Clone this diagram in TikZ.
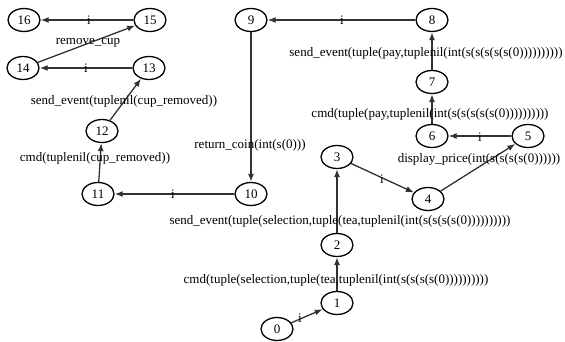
\documentclass[tikz,border=0pt]{standalone}
\usepackage{fontspec}
\setmainfont{Liberation Serif}
\usepackage{tikz}
\usetikzlibrary{arrows.meta,shapes.geometric}
\definecolor{edgegray}{RGB}{50, 50, 50}
\tikzset{
  state/.style={draw=black, ellipse, line width=1.3pt, minimum width=32pt, minimum height=23pt, inner sep=0pt},
  trans/.style={-{Latex[length=8pt,width=6pt]}, line width=1.3pt, color=edgegray},
  lbl/.style={inner sep=0pt}
}

\begin{document}
\begin{tikzpicture}[x=1pt, y=-1pt, font=\fontsize{13}{15}\selectfont]
        \useasboundingbox (0,0) rectangle (565,342);
        \node[state] (s0) at (277,329) {0};
        \node[state] (s1) at (337,303) {1};
        \node[state] (s2) at (337,245) {2};
        \node[state] (s3) at (337,157) {3};
        \node[state] (s4) at (428,199) {4};
        \node[state] (s5) at (528,136) {5};
        \node[state] (s6) at (432,136) {6};
        \node[state] (s7) at (432,82) {7};
        \node[state] (s8) at (432,20) {8};
        \node[state] (s9) at (251,20) {9};
        \node[state] (s10) at (251,194) {10};
        \node[state] (s11) at (98,194) {11};
        \node[state] (s12) at (102,131) {12};
        \node[state] (s13) at (149,68) {13};
        \node[state] (s14) at (23,68) {14};
        \node[state] (s15) at (150,20) {15};
        \node[state] (s16) at (24,20) {16};
        \draw[trans] (s0) -- (s1);
        \draw[trans] (s1) -- (s2);
        \draw[trans] (s2) -- (s3);
        \draw[trans] (s3) -- (s4);
        \draw[trans] (s4) -- (s5);
        \draw[trans] (s5) -- (s6);
        \draw[trans] (s6) -- (s7);
        \draw[trans] (s7) -- (s8);
        \draw[trans] (s8) -- (s9);
        \draw[trans] (s9) -- (s10);
        \draw[trans] (s10) -- (s11);
        \draw[trans] (s11) -- (s12);
        \draw[trans] (s12) -- (s13);
        \draw[trans] (s13) -- (s14);
        \draw[trans] (s14) -- (s15);
        \draw[trans] (s15) -- (s16);
        \node[lbl] (l01) at (300,318) {i};
        \node[lbl] (l12) at (336,280) {cmd(tuple(selection,tuple(tea,tuplenil(int(s(s(s(s(0))))))))))};
        \node[lbl] (l23) at (340,221) {send\_event(tuple(selection,tuple(tea,tuplenil(int(s(s(s(s(0))))))))))};
        \node[lbl] (l34) at (382,179) {i};
        \node[lbl] (l45) at (479,159) {display\_price(int(s(s(s(s(0))))))};
        \node[lbl] (l56) at (480,137) {i};
        \node[lbl] (l67) at (430,114) {cmd(tuple(pay,tuplenil(int(s(s(s(s(s(0))))))))))};
        \node[lbl] (l78) at (426,53) {send\_event(tuple(pay,tuplenil(int(s(s(s(s(s(0))))))))))};
        \node[lbl] (l89) at (342,20) {i};
        \node[lbl] (l910) at (250,145) {return\_coin(int(s(0)))};
        \node[lbl] (l1011) at (173,194) {i};
        \node[lbl] (l1112) at (95,158) {cmd(tuplenil(cup\_removed))};
        \node[lbl] (l1213) at (124,101) {send\_event(tuplenil(cup\_removed))};
        \node[lbl] (l1314) at (86,68) {i};
        \node[lbl] (l1415) at (88,43) {remove\_cup};
        \node[lbl] (l1516) at (89,20) {i};
    \end{tikzpicture}
\end{document}
